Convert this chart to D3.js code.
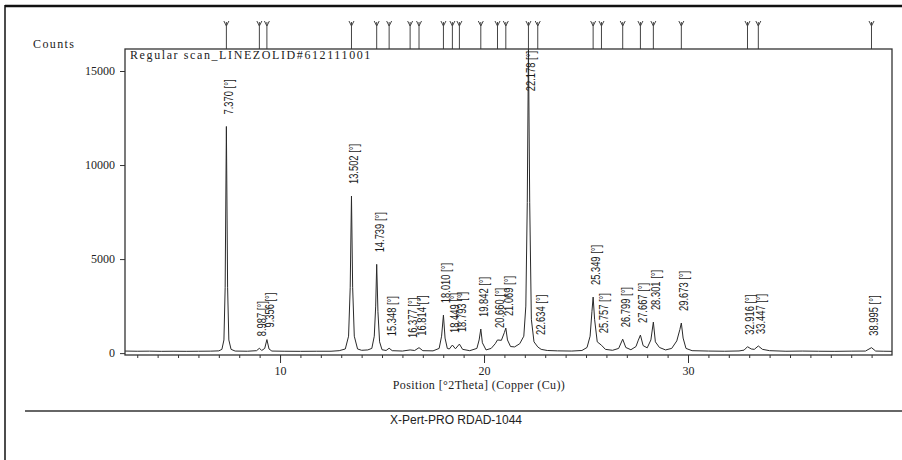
<!DOCTYPE html>
<html>
<head>
<meta charset="utf-8">
<script src="https://cdn.jsdelivr.net/npm/d3@7"></script>
<style>
  body { margin: 0; background: #fff; }
  svg { display: block; }
</style>
</head>
<body>
<div id="chart"></div>
<script>
// labelled reflections, degrees 2theta
const peakPositions = [7.370, 8.987, 9.356, 13.502, 14.739, 15.348, 16.377, 16.814,
  18.010, 18.449, 18.793, 19.842, 20.660, 21.069, 22.178, 22.634, 25.349, 25.757,
  26.799, 27.667, 28.301, 29.673, 32.916, 33.447, 38.995];
const yTicks = [0, 5000, 10000, 15000];
const xTicks = [10, 20, 30];
const minorTicks = d3.range(3, 40);

// scan trace: [2theta, counts]
const scan = [
  [2.40, 110], [3.0, 100], [3.6, 105], [4.2, 95], [4.8, 100], [5.4, 95], [6.0, 100],
  [6.6, 105], [7.0, 120], [7.15, 200], [7.25, 700], [7.31, 3500], [7.37, 12050],
  [7.43, 3500], [7.49, 700], [7.60, 200], [7.8, 110], [8.4, 100], [8.85, 130],
  [8.99, 260], [9.10, 140], [9.25, 250], [9.356, 720], [9.46, 220], [9.6, 110],
  [10.2, 100], [11.0, 95], [11.8, 100], [12.5, 100], [12.9, 130], [13.2, 220],
  [13.36, 900], [13.44, 3500], [13.502, 8350], [13.56, 3500], [13.64, 900], [13.8, 220],
  [14.0, 150], [14.3, 170], [14.5, 250], [14.62, 900], [14.69, 2500], [14.739, 4720],
  [14.80, 2200], [14.88, 600], [15.0, 180], [15.2, 140], [15.348, 260], [15.5, 130],
  [16.0, 110], [16.377, 170], [16.6, 140], [16.814, 290], [17.0, 130], [17.5, 120],
  [17.8, 250], [17.92, 900], [18.010, 2020], [18.09, 800], [18.2, 250], [18.3, 220],
  [18.449, 430], [18.6, 230], [18.793, 480], [18.95, 200], [19.3, 130], [19.65, 250],
  [19.76, 700], [19.842, 1280], [19.92, 550], [20.1, 170], [20.35, 250], [20.55, 500],
  [20.660, 700], [20.85, 680], [21.0, 1100], [21.069, 1330], [21.15, 700], [21.3, 350],
  [21.5, 330], [21.75, 500], [21.95, 900], [22.05, 2500], [22.12, 8000], [22.178, 16300],
  [22.24, 8000], [22.32, 1800], [22.45, 600], [22.634, 330], [22.8, 200], [23.1, 140],
  [23.6, 120], [24.3, 110], [24.8, 140], [25.05, 300], [25.2, 900], [25.29, 2200],
  [25.349, 2980], [25.42, 1800], [25.55, 600], [25.757, 420], [25.95, 200], [26.3, 150],
  [26.6, 250], [26.799, 740], [26.95, 300], [27.2, 180], [27.45, 350], [27.55, 650],
  [27.667, 960], [27.80, 400], [28.0, 280], [28.18, 700], [28.301, 1650], [28.40, 600],
  [28.6, 300], [28.9, 170], [29.2, 250], [29.45, 650], [29.60, 1250], [29.673, 1600],
  [29.76, 800], [29.9, 250], [30.2, 130], [31.0, 110], [31.8, 100], [32.5, 115],
  [32.75, 160], [32.916, 340], [33.1, 220], [33.25, 200], [33.447, 380], [33.65, 200],
  [34.0, 130], [34.8, 100], [35.6, 110], [36.4, 100], [37.2, 95], [38.0, 105],
  [38.7, 110], [38.995, 290], [39.2, 110], [39.6, 100], [40.0, 95]
];

const width = 902;
const height = 460;
const frame = { left: 125, right: 892, top: 49, bottom: 355 };
const serif = "'Liberation Serif', 'Times New Roman', serif";
const sans = "'Liberation Sans', Arial, sans-serif";

const svg = d3.select("#chart")
    .append("svg")
    .attr("width", width)
    .attr("height", height);

// scanned page border
svg.append("line")
    .attr("x1", 5).attr("x2", width).attr("y1", 6).attr("y2", 6)
    .attr("stroke", "#111").attr("stroke-width", 2.5);
svg.append("line")
    .attr("x1", 5).attr("x2", 5).attr("y1", 5).attr("y2", height)
    .attr("stroke", "#111").attr("stroke-width", 1.5);

const x = d3.scaleLinear()
    .domain([2.4, 40])
    .range([frame.left, frame.right]);
const y = d3.scaleLinear()
    .domain([-100, 16170])
    .range([frame.bottom, frame.top]);

svg.append("clipPath")
    .attr("id", "plotClip")
    .append("rect")
    .attr("x", frame.left).attr("y", frame.top)
    .attr("width", frame.right - frame.left)
    .attr("height", frame.bottom - frame.top);

// reference pattern markers above the frame
const markers = svg.append("g");
peakPositions.forEach(p => {
    const px = x(p);
    markers.append("line")
        .attr("x1", px).attr("x2", px)
        .attr("y1", 22).attr("y2", frame.top)
        .attr("stroke", "#444").attr("stroke-width", 1);
    markers.append("path")
        .attr("d", `M${px - 2.5},21 L${px},26 L${px + 2.5},21`)
        .attr("fill", "none")
        .attr("stroke", "#444").attr("stroke-width", 1);
});

// axes
const yAxis = d3.axisLeft(y).tickValues(yTicks).tickSize(5).tickPadding(5)
    .tickFormat(d3.format("d"));
const gy = svg.append("g")
    .attr("transform", `translate(${frame.left},0)`)
    .call(yAxis);

const gxMinor = svg.append("g")
    .attr("transform", `translate(0,${frame.bottom})`)
    .call(d3.axisBottom(x).tickValues(minorTicks).tickSize(3).tickFormat(""));
const gx = svg.append("g")
    .attr("transform", `translate(0,${frame.bottom})`)
    .call(d3.axisBottom(x).tickValues(xTicks).tickSize(8).tickPadding(3));

[gy, gx, gxMinor].forEach(g => {
    g.select(".domain").remove();
    g.selectAll("line").attr("stroke", "#333");
    g.selectAll("text")
        .attr("fill", "#222")
        .style("font-family", serif)
        .style("font-size", "12px");
});

// trace
const line = d3.line()
    .x(d => x(d[0]))
    .y(d => y(d[1]));
svg.append("path")
    .datum(scan)
    .attr("clip-path", "url(#plotClip)")
    .attr("d", line)
    .attr("fill", "none")
    .attr("stroke", "#2a2a2a")
    .attr("stroke-width", 1);

// frame
svg.append("rect")
    .attr("x", frame.left).attr("y", frame.top)
    .attr("width", frame.right - frame.left)
    .attr("height", frame.bottom - frame.top)
    .attr("fill", "none")
    .attr("stroke", "#333")
    .attr("stroke-width", 1.3);

// peak labels, narrow face imitated by squeezing the text
const labels = svg.append("g");
peakPositions.forEach(p => {
    const near = scan.filter(d => Math.abs(d[0] - p) < 0.06);
    const top = d3.max(near, d => d[1]);
    const t = labels.append("text")
        .attr("text-anchor", "start")
        .attr("fill", "#1a1a1a")
        .style("font-family", sans)
        .style("font-size", "12px")
        .text(`${p.toFixed(3)} [°]`);
    const len = t.node().getComputedTextLength() * 0.78;
    t.attr("textLength", len).attr("lengthAdjust", "spacingAndGlyphs");
    let bottom = y(top) - 12;
    if (bottom - len < frame.top + 2) bottom = frame.top + 2 + len;
    t.attr("transform", `translate(${x(p) + 7},${bottom}) rotate(-90)`);
});

svg.append("text")
    .attr("x", frame.left + 5)
    .attr("y", frame.top + 10)
    .attr("fill", "#222")
    .style("font-family", serif)
    .style("font-size", "12px")
    .style("letter-spacing", "1.6px")
    .text("Regular scan_LINEZOLID#612111001");

svg.append("text")
    .attr("x", 33)
    .attr("y", 48)
    .attr("fill", "#222")
    .style("font-family", serif)
    .style("font-size", "12px")
    .style("letter-spacing", "1.4px")
    .text("Counts");

svg.append("text")
    .attr("x", 479)
    .attr("y", 389)
    .attr("text-anchor", "middle")
    .attr("fill", "#222")
    .style("font-family", serif)
    .style("font-size", "12px")
    .style("letter-spacing", "0.4px")
    .text("Position [°2Theta] (Copper (Cu))");

// footer
svg.append("line")
    .attr("x1", 25).attr("x2", width).attr("y1", 411).attr("y2", 411)
    .attr("stroke", "#333").attr("stroke-width", 1.3);
svg.append("text")
    .attr("x", 456)
    .attr("y", 424)
    .attr("text-anchor", "middle")
    .attr("fill", "#222")
    .style("font-family", sans)
    .style("font-size", "12px")
    .text("X-Pert-PRO RDAD-1044");
</script>
</body>
</html>
